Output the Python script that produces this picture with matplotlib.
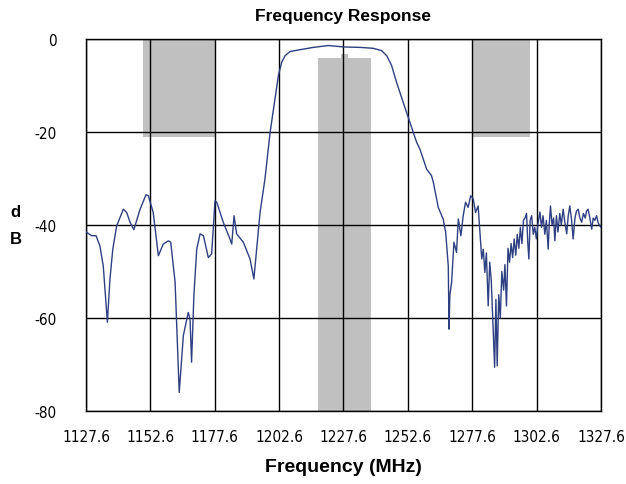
import numpy as np
import matplotlib
matplotlib.use("Agg")
import matplotlib.pyplot as plt

freq = [1127.6, 1127.9, 1129.8, 1131.5, 1133.0, 1134.3, 1135.9, 1136.9, 1138.0, 1139.5,
        1142.1, 1143.4, 1144.7, 1146.2, 1148.6, 1150.9, 1151.8, 1153.7, 1155.7, 1157.6,
        1159.6, 1160.5, 1162.2, 1163.8, 1165.4, 1167.3, 1168.0, 1168.6, 1169.5, 1170.6,
        1171.9, 1173.2, 1175.1, 1176.4, 1177.7, 1178.4, 1180.9, 1183.5, 1184.2, 1185.1,
        1186.1, 1188.7, 1191.3, 1192.8, 1195.2, 1197.1, 1199.1, 1202.3, 1203.6, 1204.9,
        1206.8, 1210.7, 1215.9, 1221.7, 1227.5, 1234.0, 1239.2, 1242.4, 1244.4, 1246.3,
        1248.2, 1252.1, 1256.0, 1257.3, 1259.9, 1261.8, 1262.5, 1264.4, 1266.3, 1267.3,
        1268.3, 1268.6, 1268.9, 1269.6, 1270.5, 1271.5, 1272.2, 1273.2, 1274.1, 1275.0,
        1276.0, 1277.0, 1278.0, 1278.9, 1279.9, 1280.6, 1281.3, 1281.9, 1282.5, 1283.1,
        1283.8, 1284.4, 1285.0, 1285.8, 1286.3, 1286.8, 1287.3, 1287.9, 1288.5, 1289.1,
        1289.8, 1290.3, 1290.9, 1291.5, 1292.1, 1292.7, 1293.3, 1293.9, 1294.5, 1295.1,
        1295.7, 1296.3, 1296.9, 1297.5, 1298.1, 1298.7, 1299.2, 1299.6, 1300.1, 1300.7,
        1301.3, 1301.9, 1302.5, 1303.2, 1303.9, 1304.5, 1305.1, 1305.8, 1306.4, 1307.1,
        1307.5, 1308.0, 1308.6, 1309.2, 1309.7, 1310.3, 1310.9, 1311.6, 1312.2, 1312.9,
        1313.6, 1314.3, 1314.9, 1315.5, 1316.2, 1316.8, 1317.5, 1318.1, 1318.8, 1319.4,
        1320.1, 1320.8, 1321.5, 1322.0, 1322.6, 1323.3, 1324.0, 1324.6, 1325.2, 1325.9,
        1326.5, 1327.2, 1327.6]
db = [-41.5, -41.6, -42.3, -42.3, -44.5, -48.8, -60.9, -51.6, -45.2, -40.2,
      -36.6, -37.3, -39.4, -41.0, -36.6, -33.5, -33.7, -37.3, -46.6, -44.1,
      -43.4, -43.7, -52.3, -76.0, -63.8, -58.8, -60.2, -69.5, -55.2, -45.2,
      -41.9, -42.3, -47.0, -46.2, -34.8, -35.1, -39.4, -43.0, -44.1, -38.0,
      -41.9, -43.7, -47.3, -51.6, -37.3, -30.1, -20.1, -7.9, -5.0, -3.6,
      -2.7, -2.3, -1.8, -1.4, -1.7, -1.8, -2.0, -2.5, -3.6, -5.7,
      -9.3, -15.8, -22.2, -23.7, -28.0, -29.4, -30.8, -36.2, -38.7, -41.6,
      -48.8, -62.4, -55.2, -52.3, -43.7, -45.9, -38.7, -42.3, -38.0, -35.1,
      -36.2, -33.7, -34.4, -37.3, -35.9, -41.6, -47.3, -45.2, -50.2, -46.0,
      -57.4, -48.0, -52.0, -63.8, -70.6, -56.0, -70.3, -55.0, -60.0, -50.0,
      -54.0, -48.5, -57.4, -45.0, -48.0, -44.0, -47.0, -43.0, -46.5, -42.0,
      -45.0, -40.5, -44.0, -39.0, -38.5, -37.5, -44.0, -47.3, -39.0, -38.0,
      -42.0, -40.5, -43.0, -39.5, -37.2, -40.5, -38.0, -42.0, -39.0, -45.2,
      -40.0, -35.9, -40.0, -38.5, -43.4, -38.0, -41.5, -37.5, -40.0, -36.6,
      -39.5, -41.9, -38.0, -35.9, -39.0, -43.0, -38.5, -37.0, -36.6, -38.5,
      -39.4, -37.5, -38.5, -37.0, -36.6, -38.5, -40.9, -38.5, -39.0, -38.0,
      -39.5, -40.2, -40.5]

# spec mask blocks: left edge, right edge, top, bottom
mask_left = [1149.7, 1217.6, 1226.6, 1277.6]
mask_right = [1177.6, 1238.3, 1229.5, 1300.0]
mask_top = [0, -4.1, -3.2, 0]
mask_bottom = [-21, -80, -80, -21]

xticks = [1127.6, 1152.6, 1177.6, 1202.6, 1227.6, 1252.6, 1277.6, 1302.6, 1327.6]
yticks = [-80, -60, -40, -20, 0]

bold = ['Liberation Sans', 'DejaVu Sans']

fig = plt.figure(figsize=(6.26, 4.85), dpi=100)
ax = fig.add_axes([0.1374, 0.1505, 0.8226, 0.767])

widths = np.array(mask_right) - np.array(mask_left)
heights = np.array(mask_top) - np.array(mask_bottom)
ax.bar(mask_left, heights, width=widths, bottom=mask_bottom, align='edge',
       color='#c0c0c0', edgecolor='none', zorder=1)

ax.plot(freq, db, color='#2e3f82', lw=1.0, zorder=3)

ax.set_xlim(1127.6, 1327.6)
ax.set_ylim(-80, 0)
ax.set_xticks(xticks)
ax.set_yticks(yticks)
ax.set_xticklabels([f"{t:.1f}" for t in xticks], family='DejaVu Sans',
                   fontstretch='condensed', fontsize=11)
ax.set_yticklabels([str(t) for t in yticks], family='DejaVu Sans',
                   fontstretch='condensed', fontsize=11)
ax.tick_params(axis='x', length=0, pad=13)
ax.tick_params(axis='y', length=0, pad=21)
ax.grid(True, color='black', lw=1.0, zorder=2)
ax.set_axisbelow(False)
for s in ax.spines.values():
    s.set_color('black')
    s.set_linewidth(1.0)

ax.set_title('Frequency Response', family=bold, fontweight='bold', fontsize=12.5, pad=14)
ax.set_xlabel('Frequency (MHz)', family=bold, fontweight='bold', fontsize=14, labelpad=10)
fig.text(0.025, 0.533, 'd\nB', family=bold, fontweight='bold', fontsize=12,
         ha='center', va='center', linespacing=2.0)

fig.savefig('out.png', dpi=100)
